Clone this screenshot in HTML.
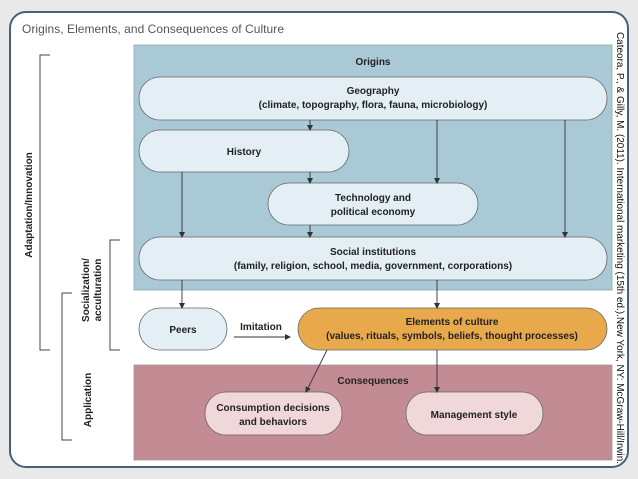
<!DOCTYPE html>
<html><head><meta charset="utf-8"><style>
html,body{margin:0;padding:0;background:#e9e9e9;}
svg{display:block;font-family:"Liberation Sans",sans-serif;}
</style></head><body>
<svg width="638" height="479" viewBox="0 0 638 479">
<defs><marker id="a" markerWidth="6" markerHeight="6" refX="5" refY="3" orient="auto" markerUnits="userSpaceOnUse"><path d="M0,0 L6,3 L0,6 z" fill="#333"/></marker></defs>
<rect x="0" y="0" width="638" height="479" fill="#e9e9e9"/>
<rect x="10" y="12" width="618" height="455" rx="16" fill="#fff" stroke="#4a6078" stroke-width="2"/>
<text x="22" y="33" font-size="12" fill="#555" textLength="262">Origins, Elements, and Consequences of Culture</text>
<rect x="134" y="45" width="478" height="245" fill="#a9c9d7" stroke="#8aa" stroke-width="0.8"/>
<rect x="134" y="365" width="478" height="95" fill="#c38b93" stroke="#999" stroke-width="0.8"/>
<g font-weight="bold" font-size="10" fill="#222" text-anchor="middle">
<text x="373" y="65">Origins</text>
<rect x="139" y="77" width="468" height="43" rx="21" fill="#e3eff4" stroke="#666" stroke-width="0.8"/>
<text x="373" y="94">Geography</text>
<text x="373" y="108">(climate, topography, flora, fauna, microbiology)</text>
<rect x="139" y="130" width="210" height="42" rx="21" fill="#e3eff4" stroke="#666" stroke-width="0.8"/>
<text x="244" y="155">History</text>
<rect x="268" y="183" width="210" height="42" rx="21" fill="#e3eff4" stroke="#666" stroke-width="0.8"/>
<text x="373" y="201">Technology and</text>
<text x="373" y="215">political economy</text>
<rect x="139" y="237" width="468" height="43" rx="21" fill="#e3eff4" stroke="#666" stroke-width="0.8"/>
<text x="373" y="255">Social institutions</text>
<text x="373" y="269">(family, religion, school, media, government, corporations)</text>
<rect x="139" y="308" width="88" height="42" rx="21" fill="#e3eff4" stroke="#666" stroke-width="0.8"/>
<text x="183" y="333">Peers</text>
<text x="261" y="330">Imitation</text>
<rect x="298" y="308" width="309" height="42" rx="21" fill="#e8a94c" stroke="#666" stroke-width="0.8"/>
<text x="452" y="325">Elements of culture</text>
<text x="452" y="339">(values, rituals, symbols, beliefs, thought processes)</text>
<text x="373" y="384">Consequences</text>
<rect x="205" y="392" width="137" height="43" rx="21" fill="#f0d8da" stroke="#666" stroke-width="0.8"/>
<text x="273" y="411">Consumption decisions</text>
<text x="273" y="425">and behaviors</text>
<rect x="406" y="392" width="137" height="43" rx="21" fill="#f0d8da" stroke="#666" stroke-width="0.8"/>
<text x="474" y="418">Management style</text>
</g>
<g stroke="#333" stroke-width="0.9" marker-end="url(#a)">
<line x1="310" y1="120" x2="310" y2="130"/>
<line x1="310" y1="172" x2="310" y2="183"/>
<line x1="437" y1="120" x2="437" y2="183"/>
<line x1="565" y1="120" x2="565" y2="237"/>
<line x1="182" y1="172" x2="182" y2="237"/>
<line x1="310" y1="225" x2="310" y2="237"/>
<line x1="182" y1="280" x2="182" y2="308"/>
<line x1="437" y1="280" x2="437" y2="308"/>
<line x1="234" y1="337" x2="290" y2="337"/>
<line x1="327" y1="350" x2="306" y2="392"/>
<line x1="437" y1="350" x2="437" y2="392"/>
</g>
<g stroke="#444" stroke-width="1" fill="none">
<path d="M50,55 H40 V350 H50"/>
<path d="M120,240 H110 V350 H120"/>
<path d="M72,293 H62 V440 H72"/>
</g>
<g font-weight="bold" font-size="10" fill="#222" text-anchor="middle">
<text transform="translate(32,205) rotate(-90)">Adaptation/Innovation</text>
<text transform="translate(89,290) rotate(-90)">Socialization/</text>
<text transform="translate(101,290) rotate(-90)">acculturation</text>
<text transform="translate(91,400) rotate(-90)">Application</text>
</g>
<text transform="translate(617,32) rotate(90)" font-size="10" fill="#111" textLength="432" lengthAdjust="spacingAndGlyphs">Cateora, P., &amp; Gilly, M. (2011). International marketing (15th ed.).New York, NY: McGraw-Hill/Irwin.</text>
</svg>
</body></html>
